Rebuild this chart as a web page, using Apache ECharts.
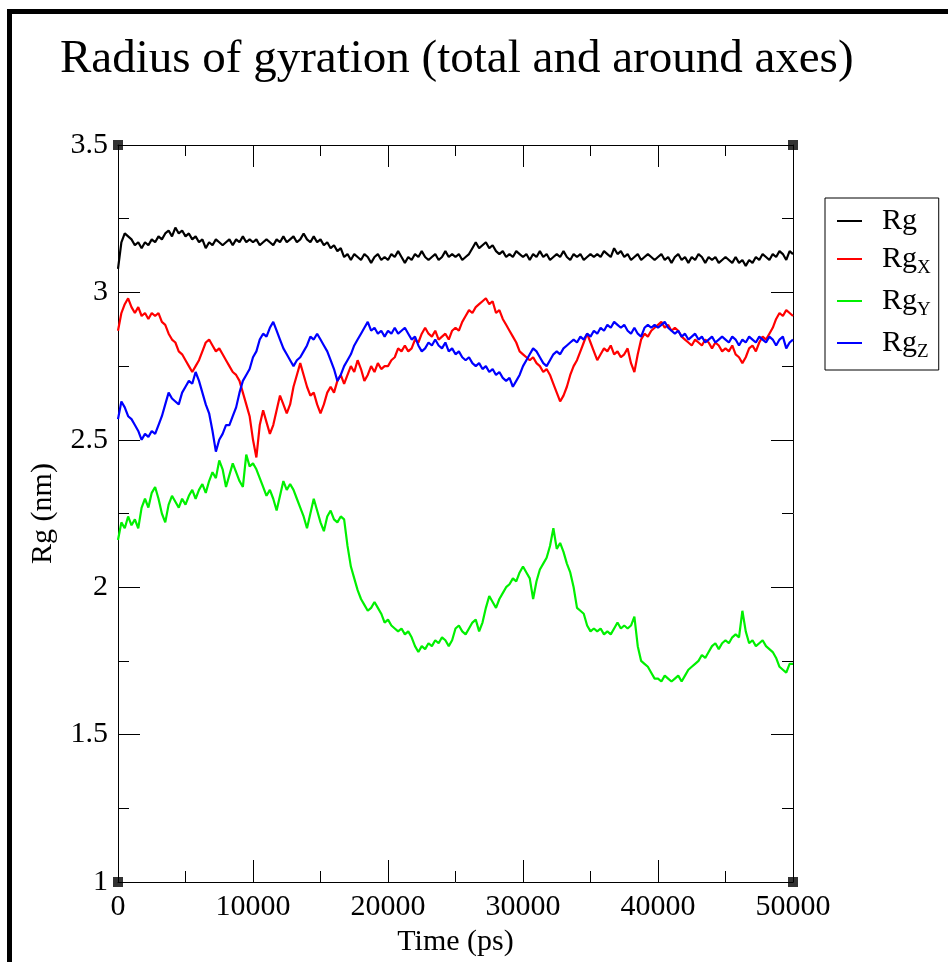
<!DOCTYPE html>
<html>
<head>
<meta charset="utf-8">
<script src="https://cdn.jsdelivr.net/npm/echarts@6/dist/echarts.min.js"></script>
<style>
html,body{margin:0;padding:0;background:#fff;overflow:hidden;}
#chart{position:absolute;left:0;top:0;width:948px;height:962px;}
#frame{position:absolute;left:7px;top:9px;width:1000px;height:1000px;border-left:5px solid #000;border-top:5px solid #000;pointer-events:none;}
</style>
</head>
<body>
<div id="chart"></div>
<div id="frame"></div>
<script>
const titleText = 'Radius of gyration (total and around axes)';
const xName = 'Time (ps)';
const yName = 'Rg (nm)';
const timeStep = 250; // ps between samples
const xTicks = [0, 10000, 20000, 30000, 40000, 50000];
const yTicks = [1, 1.5, 2, 2.5, 3, 3.5];
const seriesNames = ['Rg', 'RgX', 'RgY', 'RgZ'];

const rg = [
3.08,3.17,3.20,3.19,3.18,3.16,3.17,3.15,3.17,3.16,3.18,3.17,3.19,3.18,3.20,3.21,3.19,3.22,3.20,3.21,
3.19,3.20,3.18,3.19,3.17,3.18,3.15,3.17,3.16,3.18,3.17,3.16,3.17,3.18,3.16,3.18,3.17,3.19,3.17,3.18,
3.17,3.18,3.16,3.17,3.18,3.17,3.16,3.18,3.17,3.19,3.17,3.18,3.19,3.17,3.18,3.20,3.18,3.17,3.19,3.17,
3.18,3.16,3.17,3.15,3.16,3.14,3.15,3.12,3.13,3.11,3.13,3.12,3.11,3.13,3.12,3.10,3.12,3.13,3.11,3.12,
3.11,3.13,3.12,3.14,3.12,3.10,3.12,3.11,3.13,3.12,3.14,3.12,3.11,3.12,3.13,3.11,3.12,3.14,3.12,3.13,
3.12,3.13,3.11,3.12,3.13,3.15,3.17,3.15,3.16,3.17,3.15,3.16,3.14,3.13,3.14,3.12,3.13,3.12,3.14,3.13,
3.12,3.13,3.11,3.13,3.12,3.14,3.12,3.13,3.11,3.12,3.13,3.12,3.14,3.12,3.11,3.13,3.12,3.13,3.11,3.12,
3.13,3.12,3.13,3.12,3.14,3.13,3.12,3.15,3.13,3.14,3.12,3.13,3.11,3.12,3.13,3.11,3.12,3.13,3.12,3.11,
3.12,3.13,3.11,3.12,3.10,3.12,3.13,3.11,3.12,3.10,3.12,3.11,3.13,3.12,3.10,3.12,3.11,3.12,3.10,3.11,
3.12,3.11,3.10,3.12,3.10,3.11,3.09,3.11,3.10,3.12,3.11,3.13,3.12,3.11,3.13,3.12,3.14,3.13,3.11,3.14,
3.13];

const rgX = [
2.87,2.93,2.96,2.98,2.95,2.93,2.95,2.92,2.93,2.91,2.93,2.92,2.93,2.90,2.89,2.86,2.84,2.83,2.80,2.79,
2.77,2.75,2.73,2.75,2.77,2.80,2.83,2.84,2.82,2.80,2.81,2.79,2.77,2.75,2.73,2.72,2.70,2.66,2.62,2.58,
2.50,2.44,2.55,2.60,2.56,2.52,2.55,2.60,2.65,2.62,2.59,2.62,2.68,2.72,2.76,2.72,2.68,2.65,2.66,2.62,
2.59,2.62,2.66,2.68,2.66,2.70,2.72,2.69,2.72,2.75,2.73,2.77,2.74,2.70,2.72,2.75,2.73,2.76,2.74,2.75,
2.75,2.77,2.78,2.81,2.80,2.82,2.80,2.81,2.84,2.83,2.86,2.88,2.86,2.85,2.87,2.84,2.85,2.86,2.84,2.87,
2.88,2.87,2.90,2.92,2.94,2.93,2.95,2.96,2.97,2.98,2.96,2.97,2.93,2.94,2.91,2.89,2.87,2.85,2.83,2.80,
2.79,2.78,2.77,2.78,2.76,2.75,2.73,2.74,2.72,2.69,2.66,2.63,2.65,2.68,2.72,2.75,2.77,2.80,2.83,2.86,
2.83,2.80,2.77,2.79,2.81,2.80,2.82,2.79,2.80,2.78,2.79,2.81,2.76,2.73,2.79,2.84,2.86,2.85,2.87,2.88,
2.89,2.90,2.88,2.89,2.87,2.88,2.87,2.85,2.84,2.83,2.82,2.84,2.83,2.82,2.84,2.83,2.81,2.83,2.82,2.80,
2.81,2.80,2.82,2.79,2.78,2.76,2.78,2.81,2.82,2.80,2.83,2.85,2.84,2.86,2.88,2.91,2.93,2.92,2.94,2.93,
2.92];

const rgY = [
2.16,2.22,2.20,2.24,2.21,2.23,2.20,2.27,2.30,2.27,2.32,2.34,2.30,2.25,2.22,2.28,2.31,2.29,2.27,2.30,
2.28,2.31,2.33,2.30,2.33,2.35,2.32,2.36,2.39,2.37,2.43,2.40,2.34,2.38,2.42,2.39,2.36,2.34,2.45,2.41,
2.42,2.40,2.37,2.34,2.31,2.33,2.30,2.26,2.31,2.36,2.33,2.35,2.33,2.30,2.27,2.24,2.20,2.25,2.30,2.26,
2.22,2.19,2.24,2.26,2.23,2.22,2.24,2.23,2.14,2.07,2.03,1.99,1.96,1.94,1.92,1.93,1.95,1.93,1.91,1.88,
1.89,1.87,1.86,1.85,1.86,1.84,1.85,1.83,1.80,1.78,1.80,1.79,1.81,1.80,1.82,1.81,1.83,1.82,1.80,1.82,
1.86,1.87,1.85,1.84,1.86,1.88,1.89,1.85,1.88,1.93,1.97,1.95,1.93,1.96,1.98,2.00,2.01,2.03,2.02,2.05,
2.07,2.05,2.03,1.96,2.02,2.06,2.08,2.10,2.14,2.20,2.13,2.15,2.12,2.08,2.05,2.00,1.93,1.92,1.91,1.87,
1.85,1.86,1.85,1.86,1.84,1.85,1.84,1.86,1.88,1.86,1.87,1.86,1.87,1.90,1.80,1.75,1.74,1.73,1.71,1.69,
1.69,1.68,1.70,1.69,1.68,1.69,1.70,1.68,1.70,1.72,1.73,1.74,1.75,1.77,1.76,1.78,1.80,1.81,1.79,1.81,
1.82,1.81,1.83,1.84,1.83,1.92,1.85,1.81,1.82,1.80,1.81,1.82,1.80,1.79,1.78,1.76,1.73,1.72,1.71,1.74,
1.74];

const rgZ = [
2.57,2.63,2.61,2.58,2.57,2.55,2.53,2.50,2.52,2.51,2.53,2.52,2.55,2.58,2.62,2.66,2.64,2.63,2.62,2.66,
2.68,2.70,2.69,2.73,2.70,2.66,2.62,2.59,2.53,2.46,2.50,2.52,2.55,2.55,2.58,2.61,2.66,2.70,2.72,2.74,
2.78,2.80,2.84,2.86,2.85,2.88,2.90,2.87,2.84,2.81,2.79,2.77,2.75,2.77,2.78,2.80,2.82,2.85,2.84,2.86,
2.84,2.82,2.80,2.77,2.74,2.70,2.72,2.75,2.77,2.79,2.82,2.84,2.86,2.88,2.90,2.87,2.88,2.86,2.87,2.85,
2.87,2.86,2.88,2.86,2.87,2.88,2.86,2.84,2.85,2.82,2.80,2.81,2.83,2.82,2.84,2.82,2.81,2.83,2.80,2.81,
2.79,2.80,2.78,2.77,2.78,2.76,2.75,2.76,2.74,2.75,2.73,2.74,2.72,2.73,2.71,2.70,2.71,2.68,2.70,2.72,
2.75,2.77,2.79,2.81,2.80,2.78,2.76,2.75,2.77,2.79,2.80,2.79,2.81,2.82,2.83,2.84,2.83,2.85,2.84,2.86,
2.85,2.87,2.86,2.88,2.87,2.89,2.88,2.90,2.89,2.88,2.89,2.87,2.86,2.88,2.86,2.85,2.88,2.89,2.88,2.89,
2.88,2.89,2.90,2.88,2.87,2.86,2.87,2.85,2.86,2.84,2.85,2.86,2.84,2.85,2.83,2.84,2.85,2.83,2.84,2.85,
2.84,2.83,2.85,2.84,2.82,2.84,2.83,2.85,2.84,2.83,2.85,2.84,2.83,2.85,2.84,2.82,2.84,2.85,2.81,2.83,
2.84];

const corners = [[0, 1], [50000, 1], [0, 3.5], [50000, 3.5]];

const FONT = '"Liberation Serif", "DejaVu Serif", serif';
const colors = ['#000000', '#ff0000', '#00f000', '#0000ff'];
const valuesList = [rg, rgX, rgY, rgZ];
const subs = {RgX: 'X', RgY: 'Y', RgZ: 'Z'};

function pairs(vals) {
  return vals.map((v, i) => [i * timeStep, v]);
}

const lineSeries = seriesNames.map((n, k) => ({
  name: n,
  type: 'line',
  data: pairs(valuesList[k]),
  showSymbol: false,
  symbol: 'none',
  lineStyle: {color: colors[k], width: 2.2},
  itemStyle: {color: colors[k]},
  animation: false,
  z: 3
}));

const axisCommon = {
  type: 'value',
  axisLine: {show: true, onZero: false, lineStyle: {color: '#000', width: 1}},
  axisTick: {show: true, inside: true, length: 22, lineStyle: {color: '#000', width: 1}},
  minorTick: {show: true, splitNumber: 2, length: 11, lineStyle: {color: '#000', width: 1}},
  splitLine: {show: false},
  minorSplitLine: {show: false}
};

const chart = echarts.init(document.getElementById('chart'), null, {renderer: 'canvas'});
chart.setOption({
  backgroundColor: 'transparent',
  animation: false,
  title: {
    text: titleText, left: 55, top: 31,
    textStyle: {fontFamily: FONT, fontSize: 47, fontWeight: 'normal', color: '#000', lineHeight: 47}
  },
  legend: {
    data: seriesNames,
    orient: 'vertical',
    left: 825, top: 198,
    padding: [8, 8, 8, 12],
    itemGap: 8,
    itemWidth: 25, itemHeight: 2,
    icon: 'rect',
    borderColor: '#000', borderWidth: 1,
    formatter: n => subs[n] ? '{m|Rg}{s|' + subs[n] + '}' : '{m|Rg}',
    textStyle: {
      fontFamily: FONT, color: '#000', padding: [0, 0, 0, 15],
      rich: {
        m: {fontFamily: FONT, fontSize: 30, lineHeight: 38, color: '#000'},
        s: {fontFamily: FONT, fontSize: 19, lineHeight: 19, verticalAlign: 'bottom', color: '#000'}
      }
    },
    itemStyle: {borderWidth: 0}
  },
  grid: {left: 118, right: 155, top: 145, bottom: 80, containLabel: false},
  xAxis: [
    Object.assign({}, axisCommon, {
      min: xTicks[0], max: xTicks[xTicks.length - 1], interval: 10000,
      position: 'bottom',
      name: xName, nameLocation: 'middle', nameGap: 40,
      nameTextStyle: {fontFamily: FONT, fontSize: 30, color: '#000'},
      axisLabel: {fontFamily: FONT, fontSize: 30, color: '#000', margin: 10, formatter: v => String(v)}
    }),
    Object.assign({}, axisCommon, {
      min: xTicks[0], max: xTicks[xTicks.length - 1], interval: 10000,
      position: 'top', axisLabel: {show: false}
    })
  ],
  yAxis: [
    Object.assign({}, axisCommon, {
      min: yTicks[0], max: yTicks[yTicks.length - 1], interval: 0.5,
      position: 'left',
      name: yName, nameLocation: 'middle', nameGap: 60, nameRotate: 90,
      nameTextStyle: {fontFamily: FONT, fontSize: 30, color: '#000'},
      axisLabel: {fontFamily: FONT, fontSize: 30, color: '#000', margin: 10, formatter: v => String(v)}
    }),
    Object.assign({}, axisCommon, {
      min: yTicks[0], max: yTicks[yTicks.length - 1], interval: 0.5,
      position: 'right', axisLabel: {show: false}
    })
  ],
  series: lineSeries.concat([{
    name: 'corners', type: 'scatter', data: corners,
    symbol: 'rect', symbolSize: 10, clip: false,
    itemStyle: {color: '#000'}, z: 5, silent: true, animation: false
  }])
});
</script>
</body>
</html>
